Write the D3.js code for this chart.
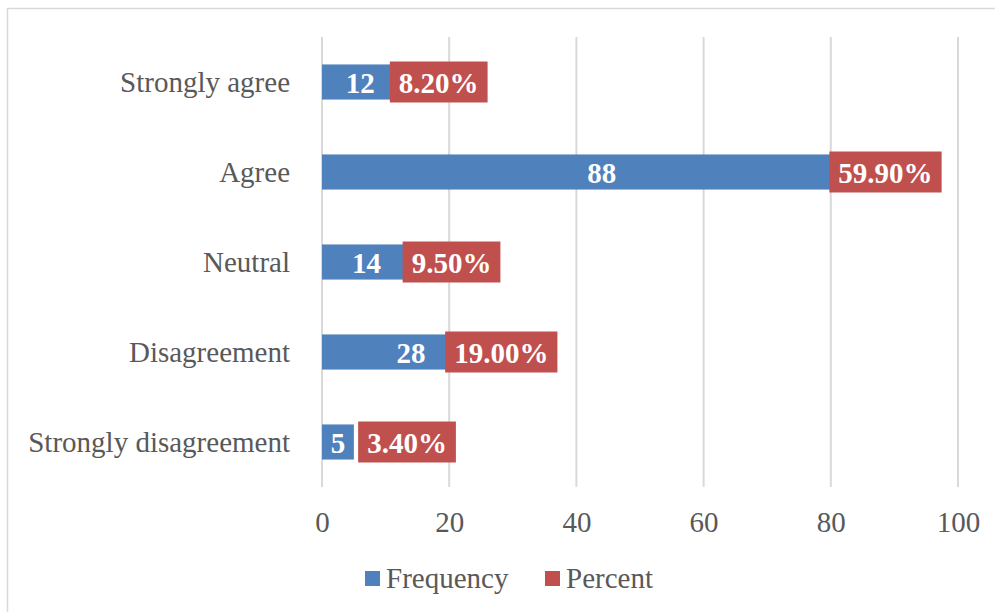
<!DOCTYPE html>
<html>
<head>
<meta charset="utf-8">
<script src="https://cdn.jsdelivr.net/npm/d3@7"></script>
<style>
  html, body { margin: 0; padding: 0; background: #fff; }
  svg { display: block; font-family: "Liberation Serif", "Times New Roman", serif; }
</style>
</head>
<body>
<svg id="chart" width="995" height="612"></svg>
<script>
// ---- data ----
const categories = ["Strongly agree", "Agree", "Neutral", "Disagreement", "Strongly disagreement"];
const frequency = [12, 88, 14, 28, 5];
const percent = [8.2, 59.9, 9.5, 19.0, 3.4];
const percentLabels = ["8.20%", "59.90%", "9.50%", "19.00%", "3.40%"];
const xTicks = [0, 20, 40, 60, 80, 100];
const seriesNames = ["Frequency", "Percent"];

// ---- styles ----
const blue = "#4f81bd", red = "#c0504d", grid = "#d9d9d9", textGray = "#595959";
const fontSize = 29;

const svg = d3.select("#chart");
const W = 995, H = 612;
const plot = { left: 322, right: 958, top: 37, bottom: 487 };

// outer chart border (only left/top visible in frame)
svg.append("rect")
  .attr("x", 7.5).attr("y", 8.5)
  .attr("width", W + 20).attr("height", H + 20)
  .attr("fill", "none").attr("stroke", grid).attr("stroke-width", 1.5);

const x = d3.scaleLinear().domain([0, 100]).range([plot.left, plot.right]);
const y = d3.scaleBand().domain(categories).range([plot.top, plot.bottom])
  .paddingInner(0.61).paddingOuter(0.305);

// gridlines
svg.append("g").selectAll("line").data(xTicks).join("line")
  .attr("x1", d => x(d)).attr("x2", d => x(d))
  .attr("y1", plot.top).attr("y2", plot.bottom)
  .attr("stroke", grid).attr("stroke-width", 2);

// x axis labels
const xAxis = d3.axisBottom(x).tickValues(xTicks).tickSize(0).tickPadding(0);
const gx = svg.append("g").attr("transform", `translate(0,${plot.bottom})`).call(xAxis);
gx.select(".domain").remove();
gx.selectAll("text")
  .attr("y", 45).attr("dy", null)
  .attr("fill", textGray)
  .style("font-size", fontSize + "px")
  .style("font-family", '"Liberation Serif", "Times New Roman", serif');

// y axis labels
const yAxis = d3.axisLeft(y).tickSize(0).tickPadding(0);
const gy = svg.append("g").attr("transform", `translate(290,0)`).call(yAxis);
gy.select(".domain").remove();
gy.selectAll("text")
  .attr("x", 0).attr("dy", "0.33em")
  .attr("fill", textGray)
  .style("font-size", fontSize + "px")
  .style("font-family", '"Liberation Serif", "Times New Roman", serif');

const rows = categories.map((c, i) => ({ c, f: frequency[i], p: percent[i], pl: percentLabels[i] }));

// frequency bars
svg.append("g").selectAll("rect").data(rows).join("rect")
  .attr("x", x(0))
  .attr("y", d => y(d.c))
  .attr("width", d => x(d.f) - x(0))
  .attr("height", y.bandwidth())
  .attr("fill", blue);

// percent bars (stacked; values as fractions of the whole)
svg.append("g").selectAll("rect").data(rows).join("rect")
  .attr("x", d => x(d.f))
  .attr("y", d => y(d.c))
  .attr("width", d => x(d.f + d.p / 100) - x(d.f))
  .attr("height", y.bandwidth())
  .attr("fill", red);

// frequency labels
const fLabels = svg.append("g").selectAll("text").data(rows).join("text")
  .attr("x", d => (x(0) + x(d.f)) / 2)
  .attr("y", d => y(d.c) + y.bandwidth() / 2 + 11)
  .attr("text-anchor", "middle")
  .attr("fill", "#fff")
  .attr("font-weight", "bold")
  .style("font-size", fontSize + "px")
  .text(d => d.f);

// percent labels with red filled boxes
const boxH = 41, padX = 9;
const pg = svg.append("g");
rows.forEach((d, i) => {
  const fl = fLabels.nodes()[i];
  const fRight = (x(0) + x(d.f)) / 2 + fl.getComputedTextLength() / 2;
  const t = pg.append("text")
    .attr("fill", "#fff").attr("font-weight", "bold")
    .style("font-size", fontSize + "px")
    .attr("text-anchor", "middle")
    .text(d.pl);
  const tw = t.node().getComputedTextLength();
  const bw = tw + 2 * padX;
  const end = x(d.f + d.p / 100);
  let left = end - bw / 2;
  if (left < fRight + 13) left = Math.max(end - 9, fRight + 13);
  const cy = y(d.c) + y.bandwidth() / 2;
  pg.insert("rect", "text")
    .attr("x", left).attr("y", cy - boxH / 2)
    .attr("width", bw).attr("height", boxH)
    .attr("fill", red);
  t.attr("x", left + bw / 2).attr("y", cy + 11);
});

// legend
const legend = svg.append("g");
const legendItems = [
  { name: seriesNames[0], color: blue, x: 365 },
  { name: seriesNames[1], color: red, x: 545 }
];
legendItems.forEach(it => {
  legend.append("rect").attr("x", it.x).attr("y", 571).attr("width", 15).attr("height", 15).attr("fill", it.color);
  legend.append("text").attr("x", it.x + 21).attr("y", 588)
    .attr("fill", textGray).style("font-size", fontSize + "px").text(it.name);
});
</script>
</body>
</html>
